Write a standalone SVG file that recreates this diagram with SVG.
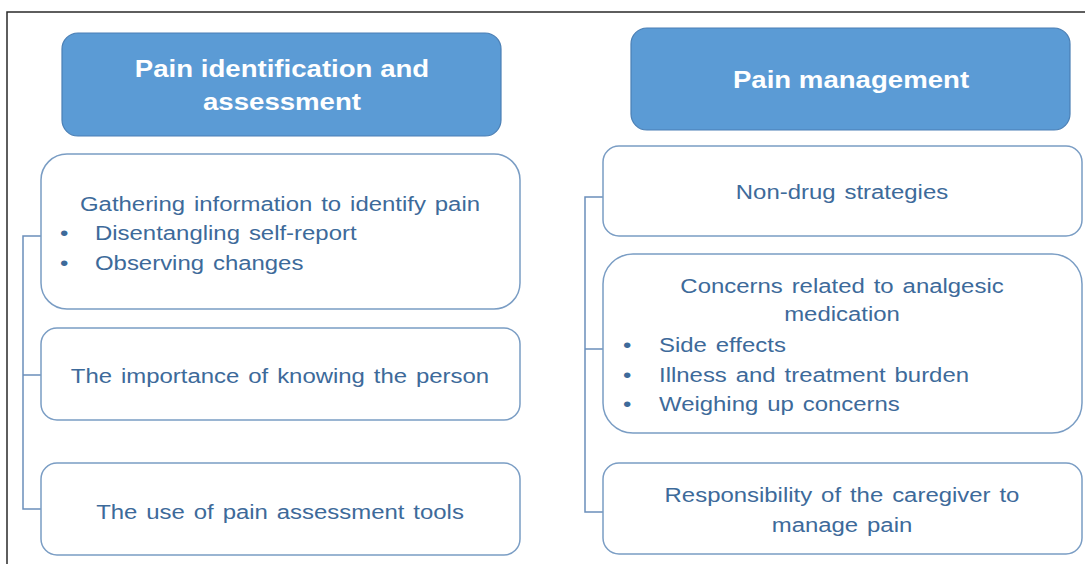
<svg xmlns="http://www.w3.org/2000/svg" width="1085" height="564" viewBox="0 0 1085 564">
<style>
.hdr{fill:#5b9bd5;stroke:#4a7fb5;stroke-width:1.2}
.box{fill:#ffffff;stroke:#7a9dc4;stroke-width:1.5}
.ht{font-family:"Liberation Sans",Arial,sans-serif;font-weight:bold;font-size:24px;fill:#ffffff;text-anchor:middle}
.bt{font-family:"Liberation Sans",Arial,sans-serif;font-size:21px;fill:#3d6a9a;word-spacing:2px}
.c{text-anchor:middle}
.conn{fill:none;stroke:#6b8fbb;stroke-width:1.5}
.frame{fill:none;stroke:#2a2a2a;stroke-width:1.5}
</style>
<rect width="1085" height="564" fill="#ffffff"/>
<path class="frame" d="M7,564 V12 H1085"/>
<g id="connectors">
<path class="conn" d="M41,236 H23 V509 H41 M23,375 H41"/>
<path class="conn" d="M603,197 H585 V512 H603 M585,349 H603"/>
</g>
<g id="hdr-left">
<rect class="hdr" x="62" y="33" width="439" height="103" rx="16"/>
<text class="ht" transform="matrix(1.15 0 0 1 282 77)">Pain identification and</text>
<text class="ht" transform="matrix(1.15 0 0 1 282 110)">assessment</text>
</g>
<g id="hdr-right">
<rect class="hdr" x="631" y="28" width="439" height="102" rx="16"/>
<text class="ht" transform="matrix(1.15 0 0 1 851 88)">Pain management</text>
</g>
<g id="l1">
<rect class="box" x="41" y="154" width="479" height="155" rx="26"/>
<text class="bt c" transform="matrix(1.14 0 0 1 280 211)">Gathering information to identify pain</text>
<text class="bt" transform="matrix(1.14 0 0 1 60 240)">•</text>
<text class="bt" transform="matrix(1.14 0 0 1 95 240)">Disentangling self-report</text>
<text class="bt" transform="matrix(1.14 0 0 1 60 270)">•</text>
<text class="bt" transform="matrix(1.14 0 0 1 95 270)">Observing changes</text>
</g>
<g id="l2">
<rect class="box" x="41" y="328" width="479" height="92" rx="16"/>
<text class="bt c" transform="matrix(1.14 0 0 1 280 383)">The importance of knowing the person</text>
</g>
<g id="l3">
<rect class="box" x="41" y="463" width="479" height="92" rx="16"/>
<text class="bt c" transform="matrix(1.14 0 0 1 280 519)">The use of pain assessment tools</text>
</g>
<g id="r1">
<rect class="box" x="603" y="146" width="479" height="90" rx="16"/>
<text class="bt c" transform="matrix(1.14 0 0 1 842 199)">Non-drug  strategies</text>
</g>
<g id="r2">
<rect class="box" x="603" y="254" width="479" height="179" rx="30"/>
<text class="bt c" transform="matrix(1.14 0 0 1 842 293)">Concerns related to analgesic</text>
<text class="bt c" transform="matrix(1.14 0 0 1 842 321)">medication</text>
<text class="bt" transform="matrix(1.14 0 0 1 623 352)">•</text>
<text class="bt" transform="matrix(1.14 0 0 1 659 352)">Side effects</text>
<text class="bt" transform="matrix(1.14 0 0 1 623 382)">•</text>
<text class="bt" transform="matrix(1.14 0 0 1 659 382)">Illness and treatment burden</text>
<text class="bt" transform="matrix(1.14 0 0 1 623 411)">•</text>
<text class="bt" transform="matrix(1.14 0 0 1 659 411)">Weighing up concerns</text>
</g>
<g id="r3">
<rect class="box" x="603" y="463" width="479" height="91" rx="16"/>
<text class="bt c" transform="matrix(1.14 0 0 1 842 502)">Responsibility of the caregiver to</text>
<text class="bt c" transform="matrix(1.14 0 0 1 842 532)">manage pain</text>
</g>
</svg>
